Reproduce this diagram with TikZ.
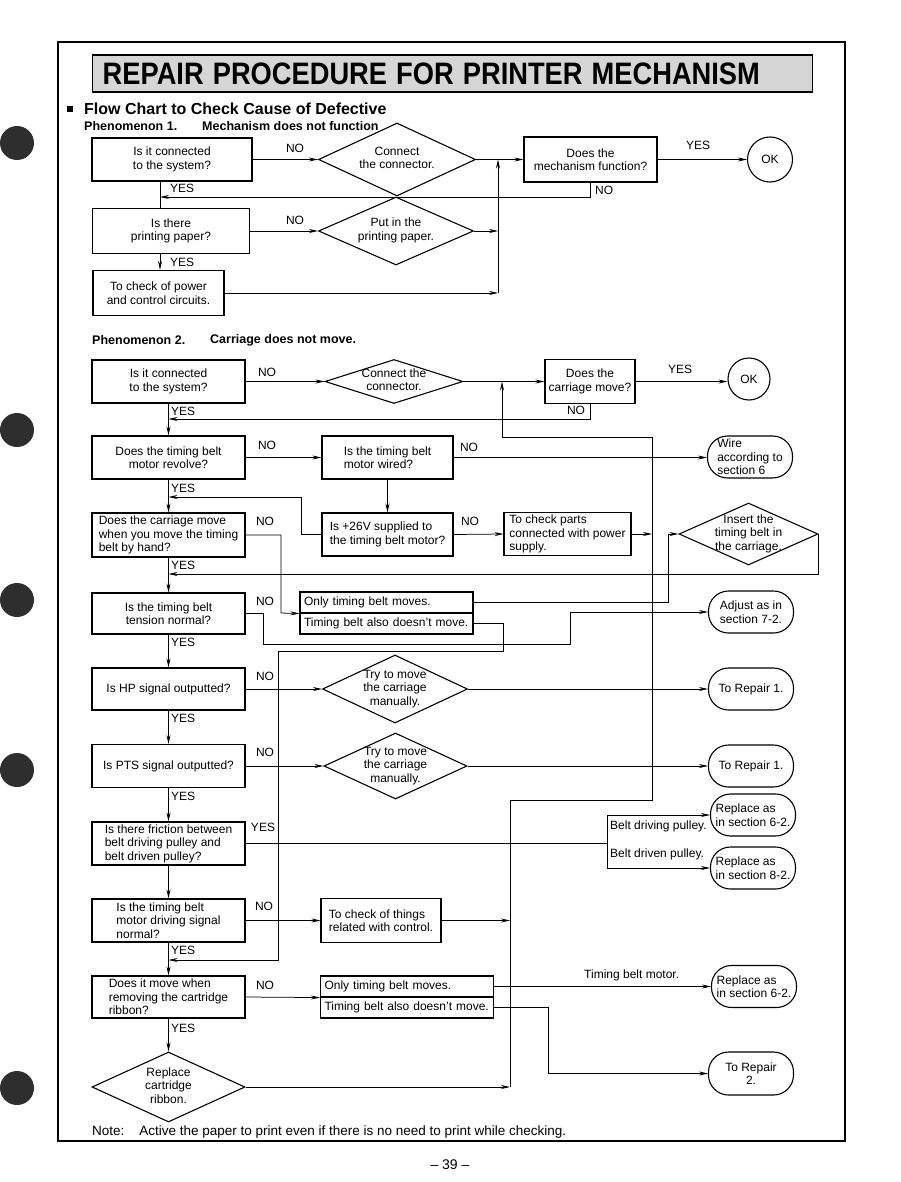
\documentclass[tikz,border=0pt]{standalone}
\usepackage{fontspec}
\setmainfont{Liberation Sans}
\usetikzlibrary{shapes.geometric,arrows.meta}

% text of a diamond, kept out of the shape size
\newcommand{\dtxt}[1]{\makebox[0pt]{\begin{tabular}{@{}c@{}}#1\end{tabular}}}

\tikzset{
  box/.style={draw, line width=1.1pt, rectangle, inner sep=2pt, align=center},
  lbox/.style={box, align=left},
  ask/.style={box, minimum width=153pt, minimum height=43pt},
  lask/.style={ask, align=left},
  row/.style={draw, line width=1.1pt, rectangle, minimum height=21pt, inner xsep=4pt, inner ysep=0pt, text width=165pt, align=left},
  dia/.style={draw, line width=1.1pt, diamond, inner sep=0pt},
  term/.style={draw, line width=1.1pt, rectangle, rounded corners=20pt, inner sep=1pt, minimum width=85pt, minimum height=42pt, align=center},
  lterm/.style={term, align=left},
  okc/.style={draw, line width=1.1pt, circle, inner sep=0pt},
  lab/.style={inner sep=0pt},
  flow/.style={line width=0.75pt},
  hole/.style={fill=black!82},
}

\begin{document}
\begin{tikzpicture}[x=1pt,y=-1pt,>={Stealth[length=9pt,width=4pt]},
  font=\fontsize{12}{13.5}\selectfont]
    \useasboundingbox (0,0) rectangle (901,1182);

    % Punch holes of the page
    \foreach \yh in {143,430,600,770,1088}
        \fill[hole] (17,\yh) circle (17pt);

    % Page frame and heading
    \draw[line width=1.2pt] (58,42) rectangle (845,1141);
    \node[draw, line width=1.4pt, fill=black!16, anchor=west, text width=700pt, inner xsep=10pt, minimum height=37pt, align=left,
      font=\fontsize{31}{31}\selectfont\bfseries] (title) at (92,73.5)
      {\scalebox{0.88}[1]{REPAIR PROCEDURE FOR PRINTER MECHANISM}};
    \fill (67,106) rectangle (73,112);
    \node[lab, anchor=west, font=\fontsize{16}{17}\selectfont\bfseries] (flowhead) at (84,109) {Flow Chart to Check Cause of Defective};
    \node[lab, anchor=west, font=\fontsize{12.5}{13}\selectfont\bfseries] (ph1) at (84,126) {Phenomenon 1.};
    \node[lab, anchor=west, font=\fontsize{12.5}{13}\selectfont\bfseries] (ph1t) at (202,126) {Mechanism does not function};

    % Phenomenon 1
    \node[box, minimum width=160pt, minimum height=43pt] (A1) at (172,159.5) {Is it connected\\to the system?};
    \node[dia, minimum width=157pt, minimum height=73pt] (D1) at (397,159.5) {\dtxt{Connect\\the connector.}};
    \node[box, minimum width=133pt, minimum height=45pt] (B1) at (590.5,159.5) {Does the\\mechanism function?};
    \node[okc, minimum size=45pt] (OK1) at (770,159.5) {OK};
    \node[box, minimum width=157pt, minimum height=45pt] (C1) at (171,231) {Is there\\printing paper?};
    \node[dia, minimum width=155pt, minimum height=68pt] (D2) at (396,231) {\dtxt{Put in the\\printing paper.}};
    \node[box, minimum width=131pt, minimum height=45pt] (E1) at (158.5,293) {To check of power\\and control circuits.};

    \coordinate (k1) at (160,0);
    \coordinate (j1) at (498,159.5);
    \coordinate (n1) at (160,197);
    \draw[flow,->] (A1.east) -- (D1.west);
    \draw[flow,->] (D1.east) -- (B1.west);
    \draw[flow,->] (B1.east) -- (OK1.west);
    \draw[flow,->] (B1.south) |- (n1);
    \draw[flow] (A1.south -| k1) -- (C1.north -| k1);
    \draw[flow,->] (C1.south -| k1) -- (E1.north -| k1);
    \draw[flow,->] (C1.east) -- (D2.west);
    \draw[flow,->] (D2.east) -- (D2.east -| j1);
    \draw[flow,->] (E1.east) -- (E1.east -| j1);
    \draw[flow,->] (E1.east -| j1) -- (j1);

    \node[lab] (no1) at (295,148) {NO};
    \node[lab] (no2) at (295,220) {NO};
    \node[lab] (yes1) at (698,145) {YES};
    \node[lab, anchor=west] (no3) at (595,190) {NO};
    \node[lab, anchor=west] (yes2) at (170,188) {YES};
    \node[lab, anchor=west] (yes3) at (170,262) {YES};

    % Phenomenon 2
    \node[lab, anchor=west, font=\fontsize{12.5}{13}\selectfont\bfseries] (ph2) at (92,340) {Phenomenon 2.};
    \node[lab, anchor=west, font=\fontsize{12.5}{13}\selectfont\bfseries] (ph2t) at (210,340) {Carriage does not move.};

    \node[ask] (A2) at (168.5,381.5) {Is it connected\\to the system?};
    \node[dia, minimum width=138pt, minimum height=44pt] (D3) at (394,381.5) {\dtxt{Connect the\\connector.}};
    \node[box, minimum width=90pt, minimum height=44pt] (B2) at (590,381.5) {Does the\\carriage move?};
    \node[okc, minimum size=42pt] (OK2) at (749,379) {OK};
    \node[ask] (B3) at (168.5,457.5) {Does the timing belt\\motor revolve?};
    \node[lbox, minimum width=131pt, minimum height=43pt] (C3) at (387.5,457.5) {Is the timing belt\\motor wired?};
    \node[lterm] (T1) at (750,457) {Wire\\according to\\section 6};
    \node[lask, minimum height=44pt] (B4) at (168.5,535) {Does the carriage move\\when you move the timing\\belt by hand?};
    \node[lbox, minimum width=131pt, minimum height=43pt] (C4) at (387.5,534.5) {Is +26V supplied to\\the timing belt motor?};
    \node[lbox, minimum width=127pt, minimum height=42pt] (E2) at (567.5,534) {To check parts\\connected with power\\supply.};
    \node[dia, minimum width=139pt, minimum height=62pt] (D7) at (748.5,534) {\dtxt{Insert the\\timing belt in\\the carriage.}};
    \node[ask, minimum height=41pt] (B5) at (168.5,613.5) {Is the timing belt\\tension normal?};
    \node[row] (S1a) at (386.5,602.5) {Only timing belt moves.};
    \node[row] (S1b) at (386.5,623.5) {Timing belt also doesn't move.};
    \node[term] (T2) at (751,612) {Adjust as in\\section 7-2.};
    \node[ask, minimum height=42pt] (B6) at (168.5,689) {Is HP signal outputted?};
    \node[dia, minimum width=145pt, minimum height=68pt] (D4) at (395,689) {\dtxt{Try to move\\the carriage\\manually.}};
    \node[term] (T3) at (751,689) {To Repair 1.};
    \node[ask] (B7) at (168.5,766) {Is PTS signal outputted?};
    \node[dia, minimum width=143pt, minimum height=66pt] (D5) at (395.5,766) {\dtxt{Try to move\\the carriage\\manually.}};
    \node[term] (T4) at (751,766) {To Repair 1.};
    \node[lask] (B8) at (168.5,843.5) {Is there friction between\\belt driving pulley and\\belt driven pulley?};
    \node[lterm] (T5) at (753,815) {Replace as\\in section 6-2.};
    \node[lterm] (T6) at (753,868) {Replace as\\in section 8-2.};
    \node[lask] (B9) at (168.5,920.5) {Is the timing belt\\motor driving signal\\normal?};
    \node[lbox, minimum width=120pt, minimum height=44pt] (C5) at (381,920.5) {To check of things\\related with control.};
    \node[lask, minimum height=42pt] (B10) at (168.5,997) {Does it move when\\removing the cartridge\\ribbon?};
    \node[row] (S2a) at (407,986.5) {Only timing belt moves.};
    \node[row] (S2b) at (407,1007.5) {Timing belt also doesn't move.};
    \node[lterm] (T7) at (754,986.5) {Replace as\\in section 6-2.};
    \node[term, minimum height=43pt] (T8) at (751,1073.5) {To Repair\\2.};
    \node[dia, minimum width=153pt, minimum height=70pt] (D6) at (168.5,1087) {\dtxt{Replace\\cartridge\\ribbon.}};

    % Connectors of phenomenon 2
    \coordinate (j2) at (502,381.5);
    \coordinate (w1) at (502,437);
    \coordinate (v1) at (652,437);
    \coordinate (r2) at (652,800);
    \coordinate (r1) at (510,800);
    \coordinate (r0) at (510,1087);
    \coordinate (n2) at (168.5,419);
    \coordinate (c4a) at (301,497);
    \coordinate (n3) at (168.5,497);
    \coordinate (b4a) at (281,613);
    \coordinate (d7a) at (668,534);
    \coordinate (d7b) at (818,574);
    \coordinate (n4) at (168.5,574);
    \coordinate (s1c) at (503,651);
    \coordinate (s1d) at (278,960);
    \coordinate (n5) at (168.5,960);
    \coordinate (b5a) at (263,644);
    \coordinate (b5b) at (570,612);
    \coordinate (p1) at (607,843.5);
    \coordinate (s2c) at (548,1073.5);

    \draw[flow,->] (A2.east) -- (D3.west);
    \draw[flow,->] (D3.east) -- (B2.west);
    \draw[flow,->] (B2.east) -- (OK2.west |- B2.east);
    \draw[flow,->] (B2.south) |- (n2);
    \draw[flow,->] (r0) -- (r1) -- (r2) -- (v1) -- (w1) -- (j2);
    \draw[flow,->] (A2.south) -- (B3.north);
    \draw[flow,->] (B3.east) -- (C3.west);
    \draw[flow,->] (C3.east) -- (C3.east -| T1.west);
    \draw[flow,->] (C3.south) -- (C4.north);
    \draw[flow,->] (C4.west) -| (c4a) -- (n3);
    \draw[flow,->] (C4.east) -- (E2.west);
    \draw[flow,->] (E2.east) -- (E2.east -| v1);
    \draw[flow,->] (B3.south) -- (B4.north);
    \draw[flow,->] (B4.east) -| (b4a) -- (S1a.south west);
    \draw[flow,->] (S1a.east) -| (d7a) -- (D7.west);
    \draw[flow,->] (D7.east) -| (d7b) -- (n4);
    \draw[flow,->] (S1b.east) -| (s1c) -| (s1d) -- (n5);
    \draw[flow,->] (B4.south) -- (B5.north);
    \draw[flow,->] (B5.east) -| (b5a) -| (b5b) -- (T2.west);
    \draw[flow,->] (B5.south) -- (B6.north);
    \draw[flow,->] (B6.east) -- (D4.west);
    \draw[flow,->] (D4.east) -- (T3.west);
    \draw[flow,->] (B6.south) -- (B7.north);
    \draw[flow,->] (B7.east) -- (D5.west);
    \draw[flow,->] (D5.east) -- (T4.west);
    \draw[flow,->] (B7.south) -- (B8.north);
    \draw[flow] (B8.east) -- (p1);
    \draw[flow,->] (p1) |- (T5.west);
    \draw[flow,->] (p1) |- (T6.west);
    \draw[flow,->] (B8.south) -- (B9.north);
    \draw[flow,->] (B9.east) -- (C5.west);
    \draw[flow,->] (C5.east) -- (C5.east -| r0);
    \draw[flow,->] (B9.south) -- (B10.north);
    \draw[flow,->] (B10.east) -- (S2a.south west);
    \draw[flow,->] (S2a.east) -- (T7.west);
    \draw[flow,->] (S2b.east) -| (s2c) -- (T8.west);
    \draw[flow,->] (B10.south) -- (D6.north);
    \draw[flow,->] (D6.east) -- (r0);

    % Branch labels
    \node[lab] (no4) at (267,372) {NO};
    \node[lab] (yes4) at (680,369) {YES};
    \node[lab] (no5) at (576,410) {NO};
    \node[lab, anchor=west] (yes5) at (171,411) {YES};
    \node[lab] (no6) at (267,445) {NO};
    \node[lab] (no7) at (469,447) {NO};
    \node[lab, anchor=west] (yes6) at (171,488) {YES};
    \node[lab] (no8) at (265,521) {NO};
    \node[lab] (no9) at (470,521) {NO};
    \node[lab, anchor=west] (yes7) at (171,565) {YES};
    \node[lab] (no10) at (265,601) {NO};
    \node[lab, anchor=west] (yes8) at (171,642) {YES};
    \node[lab] (no11) at (265,676) {NO};
    \node[lab, anchor=west] (yes9) at (171,718) {YES};
    \node[lab] (no12) at (265,752) {NO};
    \node[lab, anchor=west] (yes10) at (171,796) {YES};
    \node[lab] (yes11) at (263,827) {YES};
    \node[lab, anchor=west] (drv1) at (610,826) {Belt driving pulley.};
    \node[lab, anchor=west] (drv2) at (610,854) {Belt driven pulley.};
    \node[lab] (no13) at (264,906) {NO};
    \node[lab, anchor=west] (yes12) at (171,950) {YES};
    \node[lab] (no14) at (265,985) {NO};
    \node[lab, anchor=west] (tbm) at (584,975) {Timing belt motor.};
    \node[lab, anchor=west] (yes13) at (171,1028) {YES};

    % Foot of the page
    \node[lab, anchor=west, font=\fontsize{13.5}{14}\selectfont] (note) at (92,1132)
      {Note:\hspace{1.1em}Active the paper to print even if there is no need to print while checking.};
    \node[lab, font=\fontsize{14}{15}\selectfont] (pageno) at (450,1165) {– 39 –};
\end{tikzpicture}
\end{document}
